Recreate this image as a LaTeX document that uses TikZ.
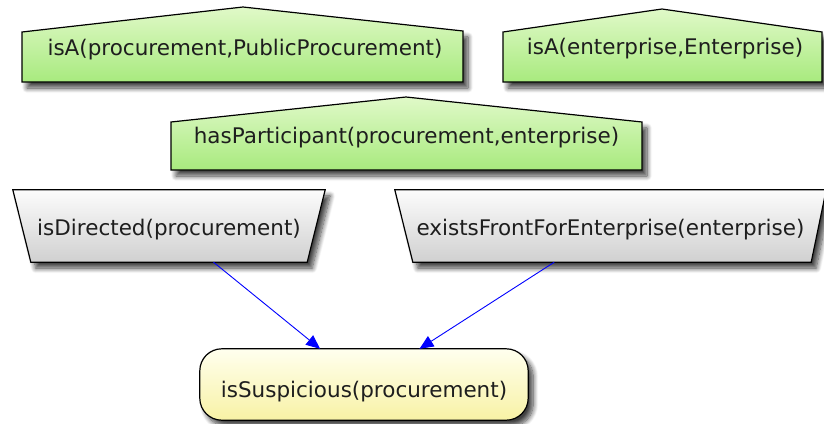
\documentclass[tikz,border=0pt]{standalone}
\usepackage{fontspec}
\setmainfont{DejaVu Sans}
\usetikzlibrary{arrows.meta,shadows.blur,backgrounds}
\definecolor{gtop}{RGB}{224,249,200}
\definecolor{gbot}{RGB}{168,234,126}
\definecolor{ktop}{RGB}{252,252,252}
\definecolor{kbot}{RGB}{208,208,208}
\definecolor{ytop}{RGB}{255,255,238}
\definecolor{ybot}{RGB}{248,242,165}
\definecolor{txt}{RGB}{30,30,30}
\begin{document}
\begin{tikzpicture}[x=1pt,y=-1pt,
  lbl/.style={font=\fontsize{21.5}{24}\selectfont, inner sep=0pt, text=txt},
  shp/.style={draw=black, line width=1.2pt, line join=miter,
    blur shadow={shadow xshift=5pt, shadow yshift=-6pt, shadow blur steps=10, shadow blur radius=5pt, shadow opacity=75}},
  green/.style={shp, top color=gtop, bottom color=gbot},
  gray/.style={shp, top color=ktop, bottom color=kbot},
  yellow/.style={shp, top color=ytop, bottom color=ybot},
  gbox/.style={lbl, minimum height=72pt, text height=23pt, text depth=5pt},
  conn/.style={draw=blue, line width=0.9pt, -{Triangle[length=14pt,width=12pt]}}]
\useasboundingbox (0,0) rectangle (824,423);

% text nodes
\node[lbl, anchor=base] (isa1) at (245,55) {isA(procurement,PublicProcurement)};
\node[lbl, anchor=base] (isa2) at (665,54) {isA(enterprise,Enterprise)};
\node[lbl, anchor=base] (hasp) at (406.5,143) {hasParticipant(procurement,enterprise)};
\node[gbox, minimum width=312pt] (dir) at (169,226) {isDirected(procurement)};
\node[gbox, minimum width=431pt] (efe) at (610.5,226) {existsFrontForEnterprise(enterprise)};
\node[lbl, minimum width=328pt, minimum height=71pt, text height=31pt, text depth=5pt] (susp) at (364,384.5) {isSuspicious(procurement)};

\begin{scope}[on background layer]
  \path[green] (22,82) -- (22,32) -- (243,7) -- (463,31) -- (463,82) -- cycle;
  \path[green] (503,82) -- (503,32) -- (662,9) -- (822,32) -- (822,82) -- cycle;
  \path[green] (171,170) -- (171,122) -- (406,97) -- (642,122) -- (642,170) -- cycle;
  \path[gray] (dir.north west) -- (dir.north east) -- ([xshift=-18pt]dir.south east) -- ([xshift=18pt]dir.south west) -- cycle;
  \path[gray] (efe.north west) -- (efe.north east) -- ([xshift=-15pt]efe.south east) -- ([xshift=18pt]efe.south west) -- cycle;
  \path[yellow, rounded corners=22pt] (susp.north west) rectangle (susp.south east);
\end{scope}

\draw[conn] (dir) -- (susp);
\draw[conn] (efe) -- (susp);
\end{tikzpicture}
\end{document}
